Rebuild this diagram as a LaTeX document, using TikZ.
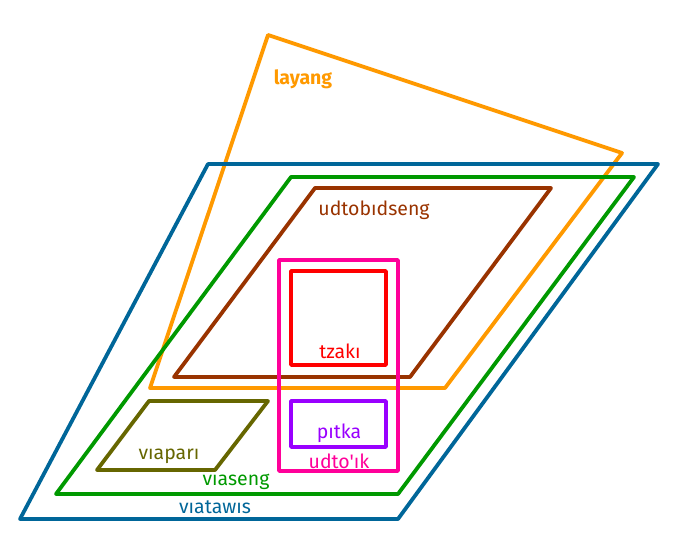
\documentclass[tikz,border=0pt]{standalone}
\usepackage{fontspec}
\setmainfont{Fira Sans}[Ligatures=TeXOff]
\usepackage{tikz}
\usetikzlibrary{positioning}
\definecolor{cblue}{RGB}{0,102,153}
\definecolor{cgreen}{RGB}{0,153,0}
\definecolor{cbrown}{RGB}{153,51,0}
\definecolor{corange}{RGB}{255,153,0}
\definecolor{cred}{RGB}{255,0,0}
\definecolor{cmagenta}{RGB}{255,0,153}
\definecolor{cpurple}{RGB}{153,0,255}
\definecolor{colive}{RGB}{102,102,0}
\begin{document}
\begin{tikzpicture}[line cap=round,line join=round,x=1pt,y=-1pt,
  setline/.style={line width=3.8pt},
  setlabel/.style={font=\fontsize{19.5}{22}\selectfont,inner sep=0pt}]
\useasboundingbox (0,0) rectangle (676,540);
\draw [setline,color=corange] (268,35)-- (622,153)-- (445,388)-- (150,388)-- cycle;
\draw [setline,color=cblue] (208,164)-- (658,164)-- (398,519)-- (20,519)-- cycle;
\draw [setline,color=cgreen] (291,177)-- (634,177)-- (398,494)-- (56,494)-- cycle;
\draw [setline,color=cbrown] (315,188)-- (551,188)-- (410,377)-- (174,377)-- cycle;
\draw [setline,color=colive] (149,401)-- (268,401)-- (215,470)-- (97,470)-- cycle;
\draw [setline,color=cred] (291,271) rectangle (386,365);
\draw [setline,color=cpurple] (291,401) rectangle (386,447);
\draw [setline,color=cmagenta] (279,260) rectangle (398,471);
\node [setlabel,text=corange,font=\fontsize{19.5}{22}\selectfont\bfseries] (layang) at (303,79) {layang};
\node [setlabel,text=cbrown] (udtobidseng) at (374,210) {udtobıdseng};
\node [setlabel,text=cred] (tzaki) at (340,351) {tzakı};
\node [setlabel,text=cpurple] (pitka) at (339,433) {pıtka};
\node [setlabel,text=cmagenta] (udtoik) at (339,461) {udto'ık};
\node [setlabel,text=colive] (viapari) at (169,456) {vıaparı};
\node [setlabel,text=cgreen] (viaseng) at (236,482) {vıaseng};
\node [setlabel,text=cblue] (viatawis) at (215,507) {vıatawıs};
\end{tikzpicture}
\end{document}
